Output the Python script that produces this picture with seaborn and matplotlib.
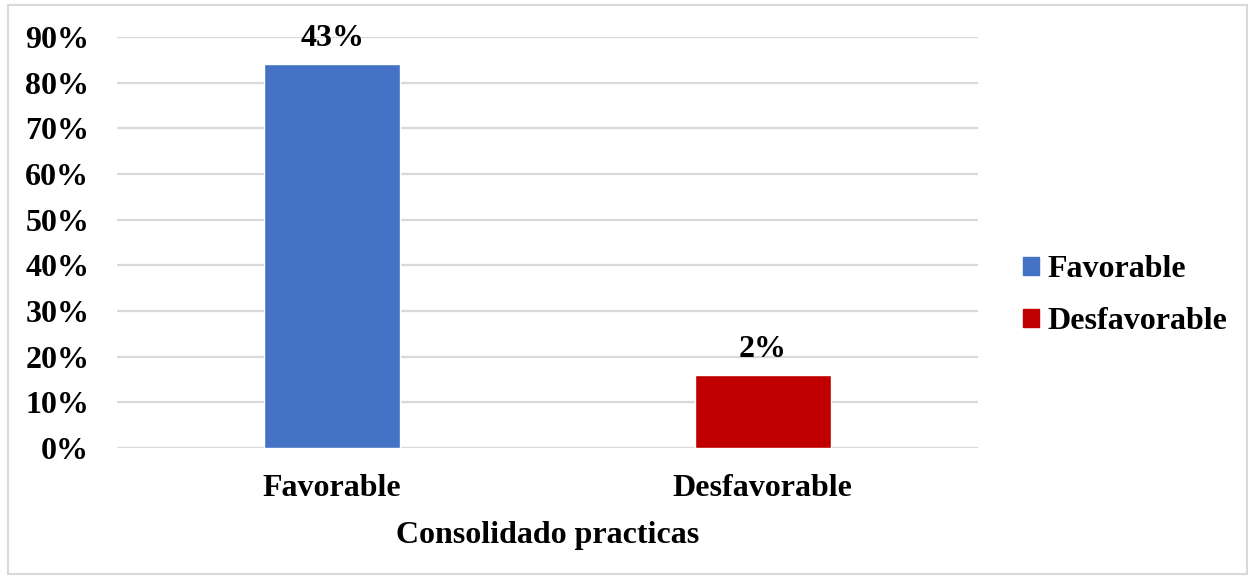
import matplotlib
matplotlib.use("Agg")
import matplotlib.pyplot as plt
import seaborn as sns
import pandas as pd
from matplotlib.patches import Patch, Rectangle
from matplotlib.ticker import PercentFormatter

categories = ["Favorable", "Desfavorable"]
values = [0.84, 0.16]
bar_labels = ["43%", "2%"]
colors = ["#4472C4", "#C00000"]
yticks = [0, 0.1, 0.2, 0.3, 0.4, 0.5, 0.6, 0.7, 0.8, 0.9]
xlabel = "Consolidado practicas"

sns.set_theme(style="white")
plt.rcParams["font.family"] = ["Liberation Serif", "DejaVu Serif"]
plt.rcParams["font.weight"] = "bold"
plt.rcParams["text.color"] = "black"
plt.rcParams["axes.labelcolor"] = "black"
plt.rcParams["xtick.color"] = "black"
plt.rcParams["ytick.color"] = "black"

FS = 23.0

df = pd.DataFrame({"cat": categories, "val": values})

fig = plt.figure(figsize=(12.5, 5.77), dpi=100)
ax = fig.add_axes([0.0936, 0.2236, 0.6888, 0.7123])

sns.barplot(data=df, x="cat", y="val", hue="cat", palette=colors,
            width=0.316, dodge=False, legend=False, ax=ax, saturation=1)

ax.set_ylim(0, 0.9)
ax.set_yticks(yticks)
ax.yaxis.set_major_formatter(PercentFormatter(1.0, decimals=0))
ax.grid(axis="y", color="#d9d9d9", linewidth=1.6)
ax.set_axisbelow(True)
for s in ax.spines.values():
    s.set_visible(False)
ax.tick_params(axis="y", length=0, pad=20, labelsize=FS, labelcolor="black")
ax.tick_params(axis="x", length=0, pad=19, labelsize=FS, labelcolor="black")
for lab in ax.get_xticklabels() + ax.get_yticklabels():
    lab.set_fontweight("bold")
ax.set_ylabel("")
ax.set_xlabel(xlabel, fontsize=FS, fontweight="bold", labelpad=13, color="black")

for i, (v, t) in enumerate(zip(values, bar_labels)):
    ax.annotate(t, xy=(i, v), xytext=(0, 8), textcoords="offset points",
                ha="center", va="bottom", fontsize=FS, fontweight="bold", color="black")

handles = [Patch(facecolor=c, edgecolor=c) for c in colors]
leg = ax.legend(handles, categories, loc="center left", bbox_to_anchor=(1.019, 0.37),
                frameon=False, prop={"size": FS, "weight": "bold"},
                handlelength=0.5, handleheight=0.5, handletextpad=0.25,
                labelspacing=0.72)
for t in leg.get_texts():
    t.set_color("black")

fig.patches.append(Rectangle((0.0064, 0.006), 0.9912, 0.985, transform=fig.transFigure,
                             fill=False, edgecolor="#d9d9d9", linewidth=1.5))

fig.savefig("out.png", dpi=100)
